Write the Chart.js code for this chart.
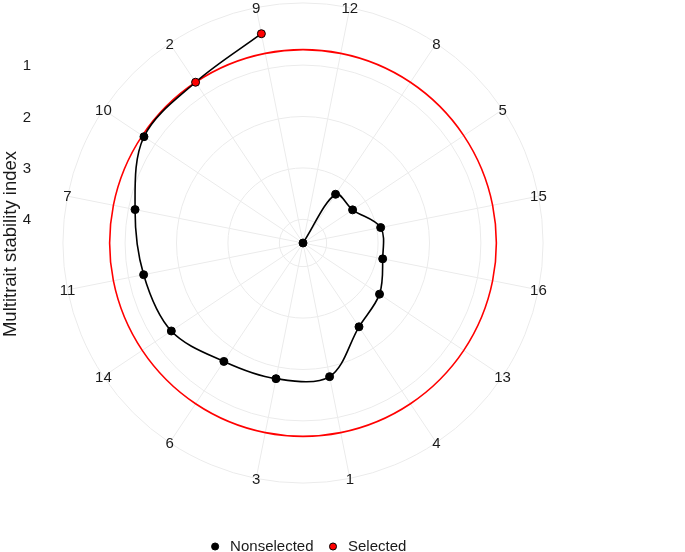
<!DOCTYPE html>
<html>
<head>
<meta charset="utf-8">
<script src="https://cdn.jsdelivr.net/npm/chart.js@4/dist/chart.umd.min.js"></script>
<style>
  html, body { margin: 0; padding: 0; background: #ffffff; }
  #wrap { width: 685px; height: 552px; }
</style>
</head>
<body>
<div id="wrap"><canvas id="c" width="685" height="552"></canvas></div>
<script>
// ---- data (clockwise from the top) ----
const genotypes = ['12', '8', '5', '15', '16', '13', '4', '1', '3', '6', '14', '11', '7', '10', '2', '9'];
const mtsi      = [4.46, 3.32, 3.30, 2.92, 2.88, 2.67, 2.50, 1.81, 1.77, 1.69, 1.38, 1.30, 1.13, 0.74, 0.70, 0.31];
const selectedGenotypes = ['9', '2'];
const axisTicks = [1, 2, 3, 4];
const axisTitle = 'Multitrait stability index';
const legendLabels = ['Nonselected', 'Selected'];

// ---- derived ----
const n = genotypes.length;
const isSel = genotypes.map(g => selectedGenotypes.includes(g));
const vMax = Math.max(...mtsi);
const vMin = Math.min(...mtsi);
const rOuter = vMin - 0.125 * (vMax - vMin);          // outer ring of the polar panel
const cutpoint = Math.max(...mtsi.filter((v, i) => isSel[i]));

// layout constants (pixels)
const RADIUS = 240;       // outer ring radius
const CENTER_FROM_TOP = 244;
const k = RADIUS / (vMax - rOuter);
const yMin = vMax - CENTER_FROM_TOP / k;
const yMax = vMax + CENTER_FROM_TOP / k;

const FONT = "'Liberation Sans', Arial, Helvetica, sans-serif";
const TEXT = '#1a1a1a';
const GRID = '#ebebeb';
const LABEL_SIZE = 15;
Chart.defaults.font.family = FONT;
Chart.defaults.color = TEXT;

const startAngle = 180 / n;
function labelPad(ctx) {
  const a = (startAngle + ctx.index * 360 / n) * Math.PI / 180;
  const w = 0.556 * LABEL_SIZE * String(genotypes[ctx.index]).length;
  const h = LABEL_SIZE * 1.2;
  return -(w / 2 * Math.abs(Math.sin(a)) + h / 2 * Math.abs(Math.cos(a)));
}
function noPad(s) { s.paddingTop = 0; s.paddingBottom = 0; s.paddingLeft = 0; s.paddingRight = 0; }

// centre each genotype label on the outer ring (as the polar panel does)
const centerPointLabels = {
  id: 'centerPointLabels',
  afterUpdate(chart) {
    const lh = LABEL_SIZE * 1.2;
    ['r', 'rLabels'].forEach(id => {
      const s = chart.scales[id];
      const items = s && s._pointLabelItems;
      if (!items) return;
      items.forEach((it, i) => {
        const p = s.getPointPosition(i, s.drawingArea);
        it.x = p.x;
        it.y = p.y - lh / 2 + 1;
        it.textAlign = 'center';
      });
    });
  }
};

const baseRadial = {
  type: 'radialLinear',
  reverse: true,
  startAngle: startAngle,
  ticks: { display: false }
};

new Chart(document.getElementById('c'), {
  type: 'radar',
  plugins: [centerPointLabels],
  data: {
    labels: genotypes,
    datasets: [
      {
        label: legendLabels[0],
        data: mtsi.map((v, i) => isSel[i] ? null : v),
        showLine: false,
        fill: false,
        pointRadius: 4,
        pointBackgroundColor: '#000000',
        pointBorderColor: '#000000',
        pointBorderWidth: 1,
        backgroundColor: '#000000',
        borderColor: '#000000',
        order: 0
      },
      {
        label: legendLabels[1],
        data: mtsi.map((v, i) => isSel[i] ? v : null),
        showLine: false,
        fill: false,
        pointRadius: 4,
        pointBackgroundColor: '#ff0000',
        pointBorderColor: '#000000',
        pointBorderWidth: 1,
        backgroundColor: '#ff0000',
        borderColor: '#000000',
        order: 0
      },
      {
        label: 'MTSI',
        data: mtsi.concat([null]),
        borderColor: '#000000',
        borderWidth: 1.6,
        pointRadius: 0,
        tension: 0.34,
        fill: false,
        spanGaps: false,
        order: 1
      },
      {
        label: 'Cutpoint',
        data: genotypes.map(() => cutpoint),
        borderColor: '#ff0000',
        borderWidth: 1.6,
        pointRadius: 0,
        tension: 0.343,
        fill: false,
        order: 2
      }
    ]
  },
  options: {
    responsive: false,
    animation: false,
    layout: { padding: { top: -2, left: 0, right: 71, bottom: -12 } },
    plugins: {
      tooltip: { enabled: false },
      legend: {
        position: 'bottom',
        fullSize: true,
        labels: {
          usePointStyle: true,
          pointStyle: 'circle',
          boxWidth: 15,
          boxHeight: 5,
          padding: 12,
          font: { size: 15 },
          color: TEXT,
          filter: item => item.datasetIndex < 2
        }
      }
    },
    scales: {
      r: Object.assign({}, baseRadial, {
        min: rOuter,
        max: vMax,
        afterBuildTicks: s => { s.ticks = [rOuter].concat(axisTicks).map(v => ({ value: v })); },
        grid: { circular: true, color: GRID, lineWidth: 1 },
        angleLines: { display: true, color: GRID, lineWidth: 1 },
        pointLabels: { display: true, font: { size: LABEL_SIZE }, color: 'rgba(0,0,0,0)', padding: labelPad }
      }),
      // same polar frame again, drawn after the grid so the genotype names sit on top
      rLabels: Object.assign({}, baseRadial, {
        min: rOuter,
        max: vMax,
        grid: { display: false },
        angleLines: { display: false },
        pointLabels: { display: true, font: { size: LABEL_SIZE }, color: TEXT, padding: labelPad }
      }),
      y: {
        type: 'linear',
        position: 'left',
        reverse: true,
        min: yMin,
        max: yMax,
        afterBuildTicks: s => { s.ticks = axisTicks.map(v => ({ value: v })); },
        afterFit: s => { s.width = 36; noPad(s); },
        grid: { display: false, drawTicks: false },
        border: { display: false },
        ticks: { font: { size: 15 }, color: TEXT, padding: 5 },
        title: { display: true, text: axisTitle, font: { size: 18.5 }, color: TEXT, padding: { top: 0, bottom: 2 } }
      },
      yr: {
        type: 'linear',
        position: 'right',
        min: 0, max: 1,
        afterFit: s => { s.width = 44; noPad(s); },
        grid: { display: false, drawTicks: false },
        border: { display: false },
        ticks: { display: false }
      },
      xb: {
        type: 'linear',
        position: 'bottom',
        min: 0, max: 1,
        afterFit: s => { s.height = 39; noPad(s); },
        grid: { display: false, drawTicks: false },
        border: { display: false },
        ticks: { display: false }
      }
    }
  }
});
</script>
</body>
</html>
